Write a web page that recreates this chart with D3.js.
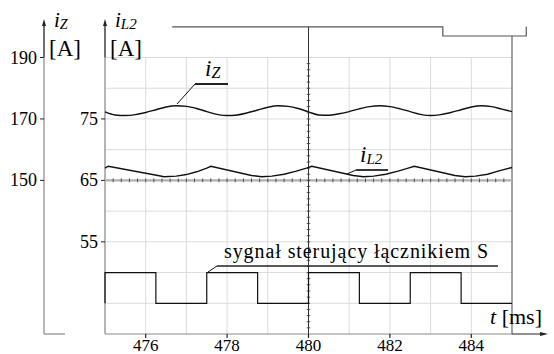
<!DOCTYPE html>
<html>
<head>
<meta charset="utf-8">
<script src="https://cdn.jsdelivr.net/npm/d3@7"></script>
<style>
  html, body { margin: 0; padding: 0; background: #fff; }
</style>
</head>
<body>
<div id="chart"></div>
<script>
// Data
const xTicks = [476, 478, 480, 482, 484];
const iZTicks = [150, 170, 190];
const iL2Ticks = [55, 65, 75];

// load current i_Z [A], left axis
const iZTime = [475, 475.25, 475.5, 475.75, 476, 476.25, 476.5, 476.75, 477, 477.25, 477.5, 477.75, 478, 478.25,
  478.5, 478.75, 479, 479.25, 479.5, 479.75, 480, 480.25, 480.5, 480.75, 481, 481.25, 481.5, 481.75, 482,
  482.25, 482.5, 482.75, 483, 483.25, 483.5, 483.75, 484, 484.25, 484.5, 484.75, 485];
const iZValue = [172.3, 171.3, 171.1, 171.4, 172.1, 173.0, 173.9, 174.3, 174.1, 173.4, 172.4, 171.5, 171.1, 171.3,
  172.0, 172.9, 173.8, 174.3, 174.1, 173.4, 172.3, 171.3, 171.2, 171.7, 172.4, 173.3, 174.0, 174.3, 174.0,
  173.3, 172.4, 171.5, 171.1, 171.4, 172.1, 173.0, 173.9, 174.3, 174.0, 173.2, 172.4];

// inductor current i_L2 [A], right axis
const iL2Time = [475, 475.08, 476.3, 476.45, 476.75, 477, 477.25, 477.5, 477.6, 478.6, 478.85, 479.1, 479.4, 479.7,
  479.95, 480.08, 481.1, 481.35, 481.6, 481.9, 482.2, 482.45, 482.6, 483.6, 483.85, 484.1, 484.4, 484.7, 485];
const iL2Value = [67.0, 67.3, 65.8, 65.6, 65.7, 65.95, 66.4, 67.0, 67.3, 65.8, 65.6, 65.7, 66.0, 66.5,
  67.0, 67.3, 65.8, 65.6, 65.7, 66.0, 66.5, 67.0, 67.3, 65.8, 65.6, 65.7, 66.0, 66.6, 67.1];

// switch control signal, drawn on the i_L2 scale
const sigTime = [475, 475, 476.25, 477.5, 478.75, 480, 481.25, 482.5, 483.75, 485];
const sigValue = [45, 50, 45, 50, 45, 50, 45, 50, 45, 45];

// clipped trace at the top edge
const topTime = [476.65, 483.3, 485.35];
const topValue = [90, 88.5, 90];

const width = 554;
const height = 354;
const plot = { left: 105, right: 512, top: 57.5, bottom: 334 };
const zAxisX = 44;
const serif = '"Times New Roman", Times, "Liberation Serif", "DejaVu Serif", serif';

const svg = d3.select('#chart')
  .append('svg')
  .attr('width', width)
  .attr('height', height)
  .style('font-family', serif);

const x = d3.scaleLinear().domain([475, 485]).range([plot.left, plot.right]);
const yL2 = d3.scaleLinear().domain([40, 85]).range([plot.bottom, plot.top]);
const yZ = d3.scaleLinear().domain([100, 190]).range([plot.bottom, plot.top]);

// Grid
const grid = svg.append('g').attr('stroke', '#dcdcdc').attr('stroke-width', 1);
grid.selectAll('.vg')
  .data(d3.range(476, 485))
  .enter().append('line')
  .attr('x1', d => x(d)).attr('x2', d => x(d))
  .attr('y1', plot.top).attr('y2', plot.bottom);
grid.selectAll('.hg')
  .data(d3.range(45, 90, 5))
  .enter().append('line')
  .attr('x1', plot.left).attr('x2', plot.right)
  .attr('y1', d => yL2(d)).attr('y2', d => yL2(d));

// Frame
svg.append('line')
  .attr('x1', plot.left).attr('x2', plot.right)
  .attr('y1', plot.bottom).attr('y2', plot.bottom)
  .attr('stroke', '#8a8a8a').attr('stroke-width', 1.2);
svg.append('line')
  .attr('x1', plot.right).attr('x2', plot.right)
  .attr('y1', yL2(88.5)).attr('y2', plot.bottom)
  .attr('stroke', '#666').attr('stroke-width', 1.2);

// Thick horizontal axis at 65 with minor ticks
svg.append('line')
  .attr('x1', plot.left).attr('x2', plot.right)
  .attr('y1', yL2(65)).attr('y2', yL2(65))
  .attr('stroke', '#b0b0b0').attr('stroke-width', 2.2);
svg.append('g').selectAll('line')
  .data(d3.range(1, 50).map(i => 475 + i * 0.2))
  .enter().append('line')
  .attr('x1', d => x(d)).attr('x2', d => x(d))
  .attr('y1', yL2(65) - 2).attr('y2', yL2(65) + 2)
  .attr('stroke', '#333').attr('stroke-width', 0.8);

// Vertical axis at 480 with minor ticks
svg.append('line')
  .attr('x1', x(480)).attr('x2', x(480))
  .attr('y1', yL2(90)).attr('y2', plot.bottom)
  .attr('stroke', '#333').attr('stroke-width', 1);
svg.append('g').selectAll('line')
  .data(d3.range(41, 85))
  .enter().append('line')
  .attr('x1', x(480) - 1.8).attr('x2', x(480) + 1.8)
  .attr('y1', d => yL2(d)).attr('y2', d => yL2(d))
  .attr('stroke', '#333').attr('stroke-width', 0.8);

// Left plot edge (i_L2 axis)
svg.append('line')
  .attr('x1', plot.left).attr('x2', plot.left)
  .attr('y1', plot.top).attr('y2', plot.bottom)
  .attr('stroke', '#b5b5b5').attr('stroke-width', 2);
svg.append('line')
  .attr('x1', plot.left).attr('x2', plot.left)
  .attr('y1', 24).attr('y2', plot.top)
  .attr('stroke', '#222').attr('stroke-width', 1.3);

// i_Z axis
svg.append('line')
  .attr('x1', zAxisX).attr('x2', zAxisX)
  .attr('y1', 24).attr('y2', plot.top)
  .attr('stroke', '#222').attr('stroke-width', 1.3);
svg.append('line')
  .attr('x1', zAxisX).attr('x2', zAxisX)
  .attr('y1', plot.top).attr('y2', plot.bottom)
  .attr('stroke', '#888').attr('stroke-width', 1.2);
svg.append('line')
  .attr('x1', zAxisX).attr('x2', 65)
  .attr('y1', plot.bottom).attr('y2', plot.bottom)
  .attr('stroke', '#888').attr('stroke-width', 1.2);

// Arrow heads
const arrow = (cx, cy, dir) => {
  const p = dir === 'up'
    ? [[cx, cy], [cx - 2, cy + 7], [cx + 2, cy + 7]]
    : [[cx, cy], [cx - 8, cy - 2], [cx - 8, cy + 2]];
  svg.append('path').attr('d', d3.line()(p) + 'Z').attr('fill', '#222');
};
arrow(zAxisX, 19, 'up');
arrow(plot.left, 19, 'up');
svg.append('line')
  .attr('x1', plot.right).attr('x2', 545)
  .attr('y1', plot.bottom).attr('y2', plot.bottom)
  .attr('stroke', '#222').attr('stroke-width', 1.2);
arrow(548, plot.bottom, 'right');

// Tick marks and labels
svg.append('g').selectAll('line')
  .data(iZTicks)
  .enter().append('line')
  .attr('x1', zAxisX - 4).attr('x2', zAxisX)
  .attr('y1', d => yZ(d)).attr('y2', d => yZ(d))
  .attr('stroke', '#222');
svg.append('g').selectAll('text')
  .data(iZTicks)
  .enter().append('text')
  .attr('x', zAxisX - 7).attr('y', d => yZ(d) + 6)
  .attr('text-anchor', 'end').attr('font-size', 18)
  .text(d => d);

svg.append('g').selectAll('line')
  .data(iL2Ticks)
  .enter().append('line')
  .attr('x1', plot.left - 4).attr('x2', plot.left)
  .attr('y1', d => yL2(d)).attr('y2', d => yL2(d))
  .attr('stroke', '#222');
svg.append('g').selectAll('text')
  .data(iL2Ticks)
  .enter().append('text')
  .attr('x', plot.left - 7).attr('y', d => yL2(d) + 6)
  .attr('text-anchor', 'end').attr('font-size', 18)
  .text(d => d);

svg.append('g').selectAll('line')
  .data(xTicks)
  .enter().append('line')
  .attr('x1', d => x(d)).attr('x2', d => x(d))
  .attr('y1', plot.bottom).attr('y2', plot.bottom + 4)
  .attr('stroke', '#222').attr('stroke-width', 1.2);
svg.append('g').selectAll('text')
  .data(xTicks)
  .enter().append('text')
  .attr('x', d => x(d)).attr('y', 351)
  .attr('text-anchor', 'middle').attr('font-size', 17)
  .text(d => d);

// Series
const lineOf = (xs, ys, yScale, curve) => d3.line()
  .x((d, i) => x(xs[i]))
  .y((d, i) => yScale(ys[i]))
  .curve(curve)(xs);

svg.append('path')
  .attr('d', lineOf(topTime, topValue, yL2, d3.curveStepAfter))
  .attr('fill', 'none').attr('stroke', '#555').attr('stroke-width', 1.2);

svg.append('path')
  .attr('d', lineOf(iZTime, iZValue, yZ, d3.curveMonotoneX))
  .attr('fill', 'none').attr('stroke', '#111').attr('stroke-width', 1.4);

svg.append('path')
  .attr('d', lineOf(iL2Time, iL2Value, yL2, d3.curveLinear))
  .attr('fill', 'none').attr('stroke', '#111').attr('stroke-width', 1.4);

svg.append('path')
  .attr('d', lineOf(sigTime, sigValue, yL2, d3.curveStepAfter))
  .attr('fill', 'none').attr('stroke', '#111').attr('stroke-width', 1.2);

// Axis titles
const symbol = (tx, ty, main, sub, size, subSize) => {
  const t = svg.append('text').attr('x', tx).attr('y', ty)
    .style('font-style', 'italic');
  t.append('tspan').attr('font-size', size).text(main);
  t.append('tspan').attr('font-size', subSize).attr('dy', 2).text(sub);
  return t;
};
symbol(54, 27, 'i', 'Z', 21, 14);
svg.append('text').attr('x', 49).attr('y', 56).attr('font-size', 23).text('[A]');
symbol(115, 27, 'i', 'L2', 21, 15);
svg.append('text').attr('x', 110).attr('y', 56).attr('font-size', 23).text('[A]');

const tLabel = svg.append('text').attr('x', 490).attr('y', 324).attr('font-size', 22);
tLabel.append('tspan').style('font-style', 'italic').text('t');
tLabel.append('tspan').text(' [ms]');

// Annotations with leader lines
const leader = pts => svg.append('path')
  .attr('d', d3.line()(pts))
  .attr('fill', 'none').attr('stroke', '#111').attr('stroke-width', 1);

symbol(205, 76, 'i', 'Z', 23, 16);
leader([[177, 104], [195, 84]]);
svg.append('line').attr('x1', 195).attr('x2', 228).attr('y1', 84).attr('y2', 84)
  .attr('stroke', '#222').attr('stroke-width', 1.8);

symbol(360, 162, 'i', 'L2', 23, 15);
leader([[347, 174], [356, 170]]);
svg.append('line').attr('x1', 356).attr('x2', 388).attr('y1', 170).attr('y2', 170)
  .attr('stroke', '#222').attr('stroke-width', 1.8);

svg.append('text').attr('x', 224).attr('y', 258).attr('font-size', 20)
  .attr('textLength', 264).attr('lengthAdjust', 'spacing')
  .text('sygnał sterujący łącznikiem S');
leader([[208, 272], [217, 266]]);
svg.append('line').attr('x1', 217).attr('x2', 498).attr('y1', 266).attr('y2', 266)
  .attr('stroke', '#222').attr('stroke-width', 1.5);
</script>
</body>
</html>
